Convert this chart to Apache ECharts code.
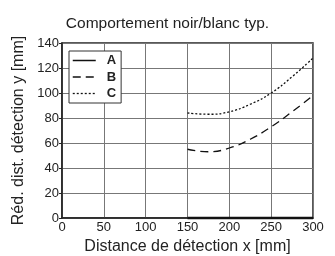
<!DOCTYPE html>
<html lang="fr">
<head>
  <meta charset="UTF-8" />
  <title>Comportement noir/blanc typ.</title>
  <script src="https://cdn.jsdelivr.net/npm/echarts@6/dist/echarts.min.js"></script>
  <style>
    body { margin: 0; background: #fff; }
    #main { width: 335px; height: 256px; }
  </style>
</head>
<body>
  <div id="main"></div>
  <script>
    // valeurs
    const xA = [150, 300];
    const yA = [0, 0];
    const xB = [150, 175, 200, 225, 250, 275, 300];
    const yB = [55, 53, 56, 63, 73, 85, 98];
    const xC = [150, 175, 200, 225, 250, 275, 300];
    const yC = [84, 83, 85, 91, 100, 113, 128];

    const pairs = (xs, ys) => xs.map((x, i) => [x, ys[i]]);
    const font = '"Liberation Sans", Arial, sans-serif';
    const dashB = [8, 5];
    const dotC = [2, 2];

    const chart = echarts.init(document.getElementById('main'));
    const option = {
      backgroundColor: '#fff',
      animation: false,
      title: {
        text: 'Comportement noir/blanc typ.',
        left: 'center',
        top: 11,
        textStyle: { fontSize: 15.5, fontWeight: 'normal', color: '#222', fontFamily: font }
      },
      grid: {
        left: 62, right: 22, top: 43, bottom: 38,
        outerBoundsMode: 'none',
        containLabel: false,
        show: true, borderColor: '#222', borderWidth: 1.5
      },
      legend: {
        orient: 'vertical',
        left: 69, top: 51,
        backgroundColor: '#fff',
        borderColor: '#333', borderWidth: 1,
        padding: [3, 5, 3, 3],
        itemWidth: 23, itemHeight: 12, itemGap: 3.5,
        itemStyle: { opacity: 0 },
        textStyle: { fontSize: 13, fontWeight: 'bold', color: '#222', fontFamily: font, padding: [0, 0, 0, 6] },
        data: [
          { name: 'A', lineStyle: { type: 'solid', width: 1.5, color: '#111' } },
          { name: 'B', lineStyle: { type: dashB, width: 1.5, color: '#111' } },
          { name: 'C', lineStyle: { type: dotC, width: 1.3, color: '#111' } }
        ]
      },
      xAxis: {
        type: 'value', min: 0, max: 300, interval: 50,
        name: 'Distance de détection x [mm]',
        nameLocation: 'middle', nameGap: 17,
        nameTextStyle: { fontSize: 16, color: '#222', fontFamily: font },
        axisLine: { lineStyle: { color: '#222', width: 1.5 } },
        axisTick: { show: false },
        axisLabel: { fontSize: 13, color: '#222', fontFamily: font, margin: 3 },
        splitLine: { lineStyle: { color: '#777', width: 1 } }
      },
      yAxis: {
        type: 'value', min: 0, max: 140, interval: 20,
        name: 'Réd. dist. détection y [mm]',
        nameLocation: 'middle', nameGap: 34,
        nameTextStyle: { fontSize: 16, color: '#222', fontFamily: font },
        axisLine: { lineStyle: { color: '#222', width: 1.5 } },
        axisTick: { show: true, length: 3, lineStyle: { color: '#222' } },
        axisLabel: { fontSize: 13, color: '#222', fontFamily: font, margin: 3 },
        splitLine: { lineStyle: { color: '#777', width: 1 } }
      },
      series: [
        {
          name: 'A', type: 'line', data: pairs(xA, yA), symbol: 'none',
          clip: false,
          lineStyle: { color: '#111', width: 2.5 }, itemStyle: { color: '#111' }
        },
        {
          name: 'B', type: 'line', data: pairs(xB, yB), symbol: 'none', smooth: true,
          lineStyle: { color: '#111', width: 1.3, type: dashB }, itemStyle: { color: '#111' }
        },
        {
          name: 'C', type: 'line', data: pairs(xC, yC), symbol: 'none', smooth: true,
          lineStyle: { color: '#111', width: 1.3, type: dotC }, itemStyle: { color: '#111' }
        }
      ]
    };
    chart.setOption(option);
  </script>
</body>
</html>
